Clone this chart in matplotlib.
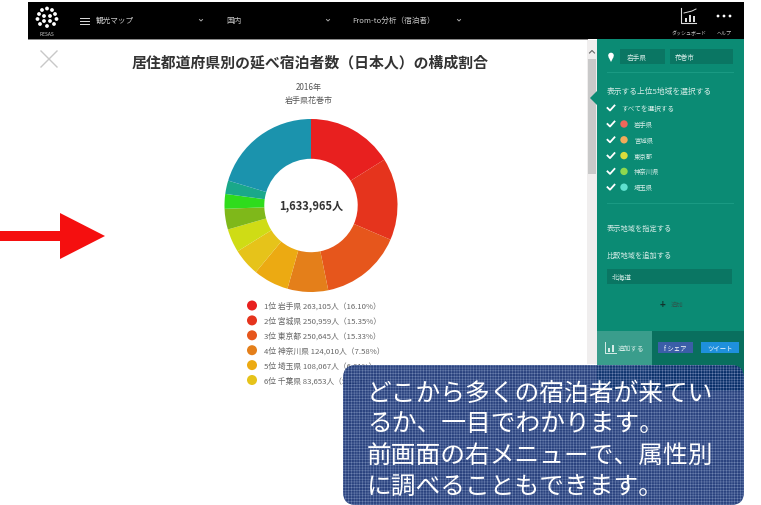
import matplotlib
matplotlib.use("Agg")
import matplotlib.pyplot as plt
from matplotlib.patches import Rectangle, FancyBboxPatch, Circle, Polygon

plt.rcParams['font.family'] = ['Noto Sans CJK JP', 'DejaVu Sans']
plt.rcParams['hatch.linewidth'] = 0.35

slice_values = [263105, 250959, 250645, 124010, 108067, 83653, 72000, 63000, 45000, 41000, 332526]
slice_colors = ['#e8201f', '#e5341d', '#e6561c', '#e47f1a', '#ecaa12', '#e6c31a', '#cfdc15',
                '#7fb81a', '#2fdc1c', '#1aa88a', '#1b93ad']
total_label = '1,633,965人'
legend_labels = ['1位 岩手県 263,105人（16.10%）', '2位 宮城県 250,959人（15.35%）',
                 '3位 東京都 250,645人（15.33%）', '4位 神奈川県 124,010人（7.58%）',
                 '5位 埼玉県 108,067人（6.61%）', '6位 千葉県 83,653人（5.12%）']
side_labels = ['岩手県', '宮城県', '東京都', '神奈川県', '埼玉県']
side_colors = ['#f0675a', '#f2ab5a', '#d9dc3c', '#8ed84f', '#5fe0cf']
title = '居住都道府県別の延べ宿泊者数（日本人）の構成割合'
subtitle = ['2016年', '岩手県花巻市']
callout = ['どこから多くの宿泊者が来てい', 'るか、一目でわかります。', '前画面の右メニューで、属性別', 'に調べることもできます。']

W, H = 761, 506
fig = plt.figure(figsize=(W / 100, H / 100), dpi=100, facecolor='white')
ax = fig.add_axes([0, 0, 1, 1])
ax.set_xlim(0, W)
ax.set_ylim(H, 0)
ax.axis('off')

def rect(x, y, w, h, c, z=1, **kw):
    ax.add_patch(Rectangle((x, y), w, h, facecolor=c, edgecolor='none', zorder=z, **kw))

# header
rect(28, 3, 716, 37, '#000000')
rect(28, 40, 560, 1, '#8a8a8a')
for x, y in [(42, 11), (47, 9.5), (52, 11), (39, 15), (55, 15), (37.5, 20), (56.5, 20),
             (40, 25), (47, 27), (54, 25), (44, 17), (50, 17), (44, 22), (50, 22)]:
    ax.add_patch(Circle((x, y), 1.9, facecolor='white', edgecolor='none', zorder=3))
ax.text(47, 34.5, 'RESAS', color='#cccccc', fontsize=3.5, ha='center', va='center', zorder=3)
for y in (18.5, 21.5, 24.5):
    ax.plot([80, 89], [y, y], color='#dddddd', lw=0.7, zorder=3)
ax.text(96, 21, '観光マップ', color='#c8c8c8', fontsize=5.5, va='center', zorder=3)
ax.text(226, 21, '国内', color='#c8c8c8', fontsize=5.5, va='center', zorder=3)
ax.text(352, 21, 'From-to分析（宿泊者）', color='#c8c8c8', fontsize=5.5, va='center', zorder=3)
for x in (201, 328, 459):
    ax.plot([x - 1.5, x, x + 1.5], [20.5, 22, 20.5], color='#aaaaaa', lw=0.7, zorder=3)
ax.plot([681, 681, 696], [9, 24, 24], color='#dddddd', lw=0.8, zorder=3)
for x, h in [(685, 4), (689, 7), (693, 6)]:
    rect(x, 23 - h, 2, h, '#dddddd', 3)
ax.plot([684, 688, 692, 696], [14, 13, 12, 10], color='#dddddd', lw=0.7, zorder=3)
ax.text(689, 33, 'ダッシュボード', color='#c8c8c8', fontsize=3.6, ha='center', va='center', zorder=3)
for x in (718, 724, 730):
    ax.add_patch(Circle((x, 17), 1.4, facecolor='white', edgecolor='none', zorder=3))
ax.text(724, 33, 'ヘルプ', color='#c8c8c8', fontsize=3.6, ha='center', va='center', zorder=3)

# close mark, title
ax.plot([41, 57], [52, 68], color='#c8c8c8', lw=1.0)
ax.plot([41, 57], [68, 52], color='#c8c8c8', lw=1.0)
ax.text(310, 62.5, title, color='#333333', fontsize=10.7, fontweight='bold', ha='center', va='center')
ax.text(309, 87, subtitle[0], color='#555555', fontsize=5.8, ha='center', va='center')
ax.text(309, 100, subtitle[1], color='#555555', fontsize=5.8, ha='center', va='center')

# donut
cx, cy, r = 311, 206.5, 86.5
dax = fig.add_axes([(cx - r) / W, 1 - (cy + r) / H, 2 * r / W, 2 * r / H])
dax.pie(slice_values, colors=slice_colors, startangle=90, counterclock=False, radius=1,
        wedgeprops=dict(width=0.46, edgecolor='none'))
dax.set_xlim(-1, 1)
dax.set_ylim(-1, 1)
dax.axis('off')
dax.patch.set_alpha(0)
dax.set_zorder(2)
ax.set_zorder(3)
ax.patch.set_alpha(0)
ax.text(311, 206, total_label, color='#333333', fontsize=8, fontweight='bold', ha='center', va='center', zorder=4)

# legend
for i, (lab, col) in enumerate(zip(legend_labels, slice_colors)):
    y = 306.5 + i * 14.9
    ax.add_patch(Circle((252, y), 5, facecolor=col, edgecolor='none', zorder=3))
    ax.text(264, y, lab, color='#666666', fontsize=5.6, va='center', zorder=3)

# scrollbar and side panel
rect(587, 41, 10, 324, '#f0eeee', 1)
rect(588, 60, 8, 115, '#c9c9c9', 1)
ax.plot([589.5, 592, 594.5], [54, 51.5, 54], color='#666666', lw=0.8, zorder=2)
rect(597, 40, 147, 292, '#0b8b74', 1)
rect(597, 332, 147, 60, '#096f5e', 1)
rect(597, 332, 55, 60, '#3a9d8c', 1)
ax.add_patch(Polygon([[597, 92], [590, 99], [597, 106]], facecolor='#0b8b74', edgecolor='none', zorder=2))
ax.add_patch(Circle((611, 56.5), 2.8, facecolor='white', edgecolor='none', zorder=3))
ax.add_patch(Polygon([[608.5, 58], [613.5, 58], [611, 63]], facecolor='white', edgecolor='none', zorder=3))
rect(620, 50, 45, 15, '#0a7663', 2)
rect(670, 50, 63, 15, '#0a7663', 2)
rect(607, 73, 127, 0.7, '#1a9a83', 2)
ax.text(627, 57.5, '岩手県', color='#d5ece7', fontsize=4.8, va='center', zorder=3)
ax.text(675, 57.5, '花巻市', color='#d5ece7', fontsize=4.8, va='center', zorder=3)
ax.text(607, 91.5, '表示する上位5地域を選択する', color='#d5ece7', fontsize=5.6, va='center', zorder=3)

def check(x, y):
    ax.plot([x - 3.5, x - 1, x + 3.5], [y, y + 2.5, y - 2.5], color='white', lw=1.3, zorder=3)

check(611, 109)
ax.text(621, 109, 'すべてを選択する', color='#d5ece7', fontsize=4.8, va='center', zorder=3)
for i, (lab, col) in enumerate(zip(side_labels, side_colors)):
    y = 125 + i * 15.8
    check(611, y)
    ax.add_patch(Circle((624, y), 3.7, facecolor=col, edgecolor='none', zorder=3))
    ax.text(634, y, lab, color='#d5ece7', fontsize=4.6, va='center', zorder=3)
rect(607, 204, 127, 0.7, '#1a9a83', 2)
ax.text(607, 229, '表示地域を指定する', color='#d5ece7', fontsize=5.2, va='center', zorder=3)
ax.text(607, 256, '比較地域を追加する', color='#d5ece7', fontsize=5.2, va='center', zorder=3)
rect(607, 270, 125, 15, '#0a7663', 2)
ax.text(612, 277.5, '北海道', color='#d5ece7', fontsize=4.8, va='center', zorder=3)
ax.text(662, 305, '+', color='#12332c', fontsize=7, fontweight='bold', ha='center', va='center', zorder=3)
ax.text(671, 305, '追加', color='#2b5a50', fontsize=4.6, va='center', zorder=3)
ax.plot([605, 605, 616], [343, 354, 354], color='#d5ece7', lw=0.7, zorder=3)
for x, h in [(608, 4), (612, 7)]:
    rect(x, 353 - h, 2, h, '#d5ece7', 3)
ax.text(618, 348, '追加する', color='#d5ece7', fontsize=4.8, va='center', zorder=3)
rect(658, 343, 35, 11, '#3b5ea8', 3)
ax.text(675.5, 348.5, 'f シェア', color='white', fontsize=4.6, ha='center', va='center', zorder=4)
rect(701, 343, 38, 11, '#1e90dc', 3)
ax.text(720, 348.5, 'ツイート', color='white', fontsize=4.6, ha='center', va='center', zorder=4)

# arrow
ax.add_patch(Polygon([[0, 232], [60, 232], [60, 214], [105, 237], [60, 260], [60, 242], [0, 242]],
                     facecolor='#f50f0f', edgecolor='none', zorder=3))

# callout
ax.add_patch(FancyBboxPatch((350, 373), 387, 126, boxstyle='round,pad=7,rounding_size=13',
                            facecolor=(0.04, 0.15, 0.42, 0.87), edgecolor='#6f84b2', hatch='++++++',
                            linewidth=0, zorder=5))
for i, line in enumerate(callout):
    ax.text(367, 393.5 + i * 31, line, color='white', fontsize=17.8, va='center', zorder=6)

fig.savefig('out.png', dpi=100)
